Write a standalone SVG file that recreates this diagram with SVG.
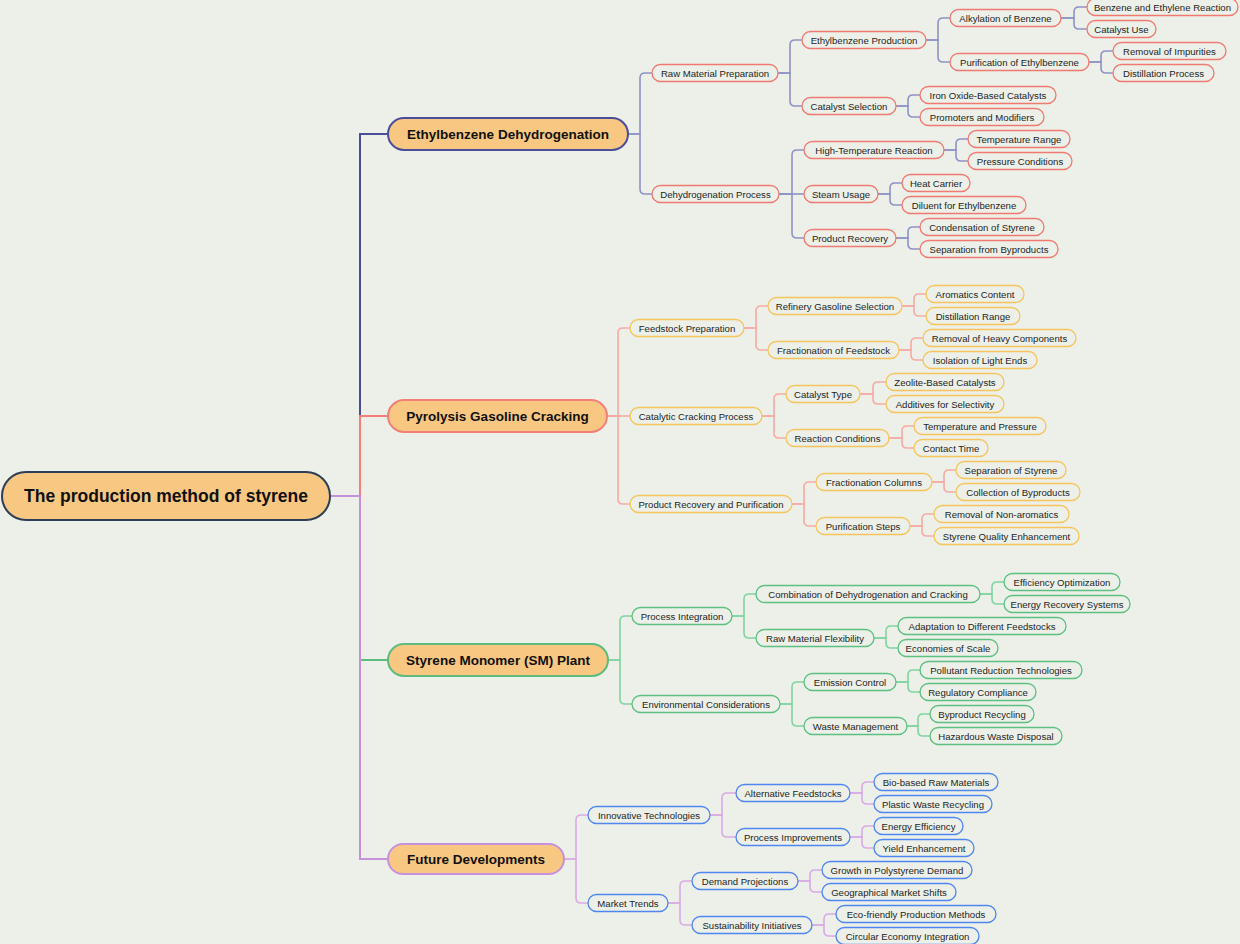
<svg xmlns="http://www.w3.org/2000/svg" width="1240" height="944" viewBox="0 0 1240 944">
<style>
.bg{fill:#ECF0E8}
.n rect{fill:#ECF0E8;stroke-width:1.3}
.n text{font-family:"Liberation Sans",Arial,sans-serif;font-size:9.6px;fill:#1E1E1E;text-anchor:middle}
.b1 rect{stroke:#F07A72}
.b2 rect{stroke:#F6C45C}
.b3 rect{stroke:#5CC080}
.b4 rect{stroke:#4F86F2}
.l1 rect{fill:#F8C882;stroke-width:2}
.l1 text{font-family:"Liberation Sans",Arial,sans-serif;font-size:13.5px;font-weight:bold;fill:#111;text-anchor:middle}
.root rect{fill:#F8C882;stroke:#2C3E55;stroke-width:2}
.root text{font-family:"Liberation Sans",Arial,sans-serif;font-size:17.5px;font-weight:bold;fill:#111;text-anchor:middle}
.c path{fill:none;stroke-width:1.6}
.c1 path{stroke:#8E92C6}
.c2 path{stroke:#F5AAA4}
.c3 path{stroke:#80D4A0}
.c4 path{stroke:#D8AAE6}
.r path{fill:none;stroke-width:2}
</style>
<rect class="bg" x="0" y="0" width="1240" height="944"/>
<g id="connectors">
<g class="r">
<path d="M330,496H360V134H388" stroke="#4A4E9A"/>
<path d="M330,496H360V416H388" stroke="#F47F7A"/>
<path d="M330,496H360V660H388" stroke="#5DBB7E"/>
<path d="M330,496H360V859H388" stroke="#C690DD"/>
</g>
<g class="c c1">
<path d="M628,134H640V78Q640,73 645,73H652"/>
<path d="M628,134H640V189Q640,194 645,194H652"/>
<path d="M778,73H790V45Q790,40 795,40H802"/>
<path d="M778,73H790V101Q790,106 795,106H802"/>
<path d="M926,40H938V23Q938,18 943,18H950"/>
<path d="M926,40H938V57Q938,62 943,62H950"/>
<path d="M1061,18H1074V12Q1074,7 1079,7H1087"/>
<path d="M1061,18H1074V24Q1074,29 1079,29H1087"/>
<path d="M1089,62H1101V56Q1101,51 1106,51H1113"/>
<path d="M1089,62H1101V68Q1101,73 1106,73H1113"/>
<path d="M896,106H908V100Q908,95 913,95H920"/>
<path d="M896,106H908V112Q908,117 913,117H920"/>
<path d="M779,194H792V155Q792,150 797,150H804"/>
<path d="M779,194H804"/>
<path d="M779,194H792V233Q792,238 797,238H804"/>
<path d="M944,150H956V144Q956,139 961,139H968"/>
<path d="M944,150H956V156Q956,161 961,161H968"/>
<path d="M878,194H890V188Q890,183 895,183H902"/>
<path d="M878,194H890V200Q890,205 895,205H902"/>
<path d="M896,238H908V232Q908,227 913,227H920"/>
<path d="M896,238H908V244Q908,249 913,249H920"/>
</g>
<g class="c c2">
<path d="M607,416H618V333Q618,328 623,328H630"/>
<path d="M607,416H630"/>
<path d="M607,416H618V499Q618,504 623,504H630"/>
<path d="M744,328H756V311Q756,306 761,306H768"/>
<path d="M744,328H756V345Q756,350 761,350H768"/>
<path d="M902,306H914V299Q914,294 919,294H926"/>
<path d="M902,306H914V311Q914,316 919,316H926"/>
<path d="M899,350H911V343Q911,338 916,338H923"/>
<path d="M899,350H911V355Q911,360 916,360H923"/>
<path d="M762,416H774V399Q774,394 779,394H786"/>
<path d="M762,416H774V433Q774,438 779,438H786"/>
<path d="M860,394H873V387Q873,382 878,382H886"/>
<path d="M860,394H873V399Q873,404 878,404H886"/>
<path d="M889,438H902V431Q902,426 907,426H914"/>
<path d="M889,438H902V443Q902,448 907,448H914"/>
<path d="M792,504H804V487Q804,482 809,482H816"/>
<path d="M792,504H804V521Q804,526 809,526H816"/>
<path d="M932,482H944V475Q944,470 949,470H956"/>
<path d="M932,482H944V487Q944,492 949,492H956"/>
<path d="M910,526H922V519Q922,514 927,514H934"/>
<path d="M910,526H922V531Q922,536 927,536H934"/>
</g>
<g class="c c3">
<path d="M608,660H620V621Q620,616 625,616H632"/>
<path d="M608,660H620V699Q620,704 625,704H632"/>
<path d="M732,616H744V599Q744,594 749,594H756"/>
<path d="M732,616H744V633Q744,638 749,638H756"/>
<path d="M980,594H992V587Q992,582 997,582H1004"/>
<path d="M980,594H992V599Q992,604 997,604H1004"/>
<path d="M874,638H886V631Q886,626 891,626H898"/>
<path d="M874,638H886V643Q886,648 891,648H898"/>
<path d="M780,704H792V687Q792,682 797,682H804"/>
<path d="M780,704H792V721Q792,726 797,726H804"/>
<path d="M896,682H908V675Q908,670 913,670H920"/>
<path d="M896,682H908V687Q908,692 913,692H920"/>
<path d="M907,726H918V719Q918,714 923,714H930"/>
<path d="M907,726H918V731Q918,736 923,736H930"/>
</g>
<g class="c c4">
<path d="M564,859H576V820Q576,815 581,815H588"/>
<path d="M564,859H576V898Q576,903 581,903H588"/>
<path d="M710,815H722V798Q722,793 727,793H736"/>
<path d="M710,815H722V832Q722,837 727,837H736"/>
<path d="M850,793H862V787Q862,782 867,782H874"/>
<path d="M850,793H862V799Q862,804 867,804H874"/>
<path d="M850,837H862V831Q862,826 867,826H874"/>
<path d="M850,837H862V843Q862,848 867,848H874"/>
<path d="M668,903H680V886Q680,881 685,881H692"/>
<path d="M668,903H680V920Q680,925 685,925H692"/>
<path d="M798,881H810V875Q810,870 815,870H822"/>
<path d="M798,881H810V887Q810,892 815,892H822"/>
<path d="M812,925H824V919Q824,914 829,914H836"/>
<path d="M812,925H824V931Q824,936 829,936H836"/>
</g>
</g>

<g id="root" class="root"><rect x="2" y="472" width="328" height="48" rx="24"/><text x="166" y="502">The production method of styrene</text></g>

<g id="ethylbenzene-dehydrogenation" class="l1"><rect x="388" y="118" width="240" height="32" rx="16" stroke="#4A4E9A"/><text x="508" y="139">Ethylbenzene Dehydrogenation</text></g>
<g id="pyrolysis-gasoline-cracking" class="l1"><rect x="388" y="400" width="219" height="32" rx="16" stroke="#F47F7A"/><text x="497.5" y="421">Pyrolysis Gasoline Cracking</text></g>
<g id="styrene-monomer-plant" class="l1"><rect x="388" y="644" width="220" height="32" rx="16" stroke="#5DBB7E"/><text x="498" y="665">Styrene Monomer (SM) Plant</text></g>
<g id="future-developments" class="l1"><rect x="388" y="844" width="176" height="30" rx="15" stroke="#C690DD"/><text x="476" y="864">Future Developments</text></g>

<g class="n b1">
<g id="raw-material-preparation"><rect x="652" y="64.5" width="126" height="17" rx="8.5"/><text x="715" y="76.5">Raw Material Preparation</text></g>
<g id="dehydrogenation-process"><rect x="652" y="185.5" width="127" height="17" rx="8.5"/><text x="715.5" y="197.5">Dehydrogenation Process</text></g>
<g id="ethylbenzene-production"><rect x="802" y="31.5" width="124" height="17" rx="8.5"/><text x="864" y="43.5">Ethylbenzene Production</text></g>
<g id="catalyst-selection"><rect x="802" y="97.5" width="94" height="17" rx="8.5"/><text x="849" y="109.5">Catalyst Selection</text></g>
<g id="alkylation-of-benzene"><rect x="950" y="9.5" width="111" height="17" rx="8.5"/><text x="1005.5" y="21.5">Alkylation of Benzene</text></g>
<g id="purification-of-ethylbenzene"><rect x="950" y="53.5" width="139" height="17" rx="8.5"/><text x="1019.5" y="65.5">Purification of Ethylbenzene</text></g>
<g id="benzene-and-ethylene-reaction"><rect x="1087" y="-1.5" width="151" height="17" rx="8.5"/><text x="1162.5" y="10.5">Benzene and Ethylene Reaction</text></g>
<g id="catalyst-use"><rect x="1087" y="20.5" width="69" height="17" rx="8.5"/><text x="1121.5" y="32.5">Catalyst Use</text></g>
<g id="removal-of-impurities"><rect x="1113" y="42.5" width="113" height="17" rx="8.5"/><text x="1169.5" y="54.5">Removal of Impurities</text></g>
<g id="distillation-process"><rect x="1113" y="64.5" width="101" height="17" rx="8.5"/><text x="1163.5" y="76.5">Distillation Process</text></g>
<g id="iron-oxide-based-catalysts"><rect x="920" y="86.5" width="136" height="17" rx="8.5"/><text x="988" y="98.5">Iron Oxide-Based Catalysts</text></g>
<g id="promoters-and-modifiers"><rect x="920" y="108.5" width="124" height="17" rx="8.5"/><text x="982" y="120.5">Promoters and Modifiers</text></g>
<g id="high-temperature-reaction"><rect x="804" y="141.5" width="140" height="17" rx="8.5"/><text x="874" y="153.5">High-Temperature Reaction</text></g>
<g id="steam-usage"><rect x="804" y="185.5" width="74" height="17" rx="8.5"/><text x="841" y="197.5">Steam Usage</text></g>
<g id="product-recovery"><rect x="804" y="229.5" width="92" height="17" rx="8.5"/><text x="850" y="241.5">Product Recovery</text></g>
<g id="temperature-range"><rect x="968" y="130.5" width="102" height="17" rx="8.5"/><text x="1019" y="142.5">Temperature Range</text></g>
<g id="pressure-conditions"><rect x="968" y="152.5" width="104" height="17" rx="8.5"/><text x="1020" y="164.5">Pressure Conditions</text></g>
<g id="heat-carrier"><rect x="902" y="174.5" width="68" height="17" rx="8.5"/><text x="936" y="186.5">Heat Carrier</text></g>
<g id="diluent-for-ethylbenzene"><rect x="902" y="196.5" width="124" height="17" rx="8.5"/><text x="964" y="208.5">Diluent for Ethylbenzene</text></g>
<g id="condensation-of-styrene"><rect x="920" y="218.5" width="124" height="17" rx="8.5"/><text x="982" y="230.5">Condensation of Styrene</text></g>
<g id="separation-from-byproducts"><rect x="920" y="240.5" width="138" height="17" rx="8.5"/><text x="989" y="252.5">Separation from Byproducts</text></g>
</g>

<g class="n b2">
<g id="feedstock-preparation"><rect x="630" y="319.5" width="114" height="17" rx="8.5"/><text x="687" y="331.5">Feedstock Preparation</text></g>
<g id="catalytic-cracking-process"><rect x="630" y="407.5" width="132" height="17" rx="8.5"/><text x="696" y="419.5">Catalytic Cracking Process</text></g>
<g id="product-recovery-and-purification"><rect x="630" y="495.5" width="162" height="17" rx="8.5"/><text x="711" y="507.5">Product Recovery and Purification</text></g>
<g id="refinery-gasoline-selection"><rect x="768" y="297.5" width="134" height="17" rx="8.5"/><text x="835" y="309.5">Refinery Gasoline Selection</text></g>
<g id="fractionation-of-feedstock"><rect x="768" y="341.5" width="131" height="17" rx="8.5"/><text x="833.5" y="353.5">Fractionation of Feedstock</text></g>
<g id="aromatics-content"><rect x="926" y="285.5" width="98" height="17" rx="8.5"/><text x="975" y="297.5">Aromatics Content</text></g>
<g id="distillation-range"><rect x="926" y="307.5" width="94" height="17" rx="8.5"/><text x="973" y="319.5">Distillation Range</text></g>
<g id="removal-of-heavy-components"><rect x="923" y="329.5" width="153" height="17" rx="8.5"/><text x="999.5" y="341.5">Removal of Heavy Components</text></g>
<g id="isolation-of-light-ends"><rect x="923" y="351.5" width="114" height="17" rx="8.5"/><text x="980" y="363.5">Isolation of Light Ends</text></g>
<g id="catalyst-type"><rect x="786" y="385.5" width="74" height="17" rx="8.5"/><text x="823" y="397.5">Catalyst Type</text></g>
<g id="reaction-conditions"><rect x="786" y="429.5" width="103" height="17" rx="8.5"/><text x="837.5" y="441.5">Reaction Conditions</text></g>
<g id="zeolite-based-catalysts"><rect x="886" y="373.5" width="118" height="17" rx="8.5"/><text x="945" y="385.5">Zeolite-Based Catalysts</text></g>
<g id="additives-for-selectivity"><rect x="886" y="395.5" width="118" height="17" rx="8.5"/><text x="945" y="407.5">Additives for Selectivity</text></g>
<g id="temperature-and-pressure"><rect x="914" y="417.5" width="132" height="17" rx="8.5"/><text x="980" y="429.5">Temperature and Pressure</text></g>
<g id="contact-time"><rect x="914" y="439.5" width="74" height="17" rx="8.5"/><text x="951" y="451.5">Contact Time</text></g>
<g id="fractionation-columns"><rect x="816" y="473.5" width="116" height="17" rx="8.5"/><text x="874" y="485.5">Fractionation Columns</text></g>
<g id="purification-steps"><rect x="816" y="517.5" width="94" height="17" rx="8.5"/><text x="863" y="529.5">Purification Steps</text></g>
<g id="separation-of-styrene"><rect x="956" y="461.5" width="110" height="17" rx="8.5"/><text x="1011" y="473.5">Separation of Styrene</text></g>
<g id="collection-of-byproducts"><rect x="956" y="483.5" width="124" height="17" rx="8.5"/><text x="1018" y="495.5">Collection of Byproducts</text></g>
<g id="removal-of-non-aromatics"><rect x="934" y="505.5" width="135" height="17" rx="8.5"/><text x="1001.5" y="517.5">Removal of Non-aromatics</text></g>
<g id="styrene-quality-enhancement"><rect x="934" y="527.5" width="145" height="17" rx="8.5"/><text x="1006.5" y="539.5">Styrene Quality Enhancement</text></g>
</g>

<g class="n b3">
<g id="process-integration"><rect x="632" y="607.5" width="100" height="17" rx="8.5"/><text x="682" y="619.5">Process Integration</text></g>
<g id="environmental-considerations"><rect x="632" y="695.5" width="148" height="17" rx="8.5"/><text x="706" y="707.5">Environmental Considerations</text></g>
<g id="combination-of-dehydrogenation-and-cracking"><rect x="756" y="585.5" width="224" height="17" rx="8.5"/><text x="868" y="597.5">Combination of Dehydrogenation and Cracking</text></g>
<g id="raw-material-flexibility"><rect x="756" y="629.5" width="118" height="17" rx="8.5"/><text x="815" y="641.5">Raw Material Flexibility</text></g>
<g id="efficiency-optimization"><rect x="1004" y="573.5" width="116" height="17" rx="8.5"/><text x="1062" y="585.5">Efficiency Optimization</text></g>
<g id="energy-recovery-systems"><rect x="1004" y="595.5" width="126" height="17" rx="8.5"/><text x="1067" y="607.5">Energy Recovery Systems</text></g>
<g id="adaptation-to-different-feedstocks"><rect x="898" y="617.5" width="168" height="17" rx="8.5"/><text x="982" y="629.5">Adaptation to Different Feedstocks</text></g>
<g id="economies-of-scale"><rect x="898" y="639.5" width="100" height="17" rx="8.5"/><text x="948" y="651.5">Economies of Scale</text></g>
<g id="emission-control"><rect x="804" y="673.5" width="92" height="17" rx="8.5"/><text x="850" y="685.5">Emission Control</text></g>
<g id="waste-management"><rect x="804" y="717.5" width="103" height="17" rx="8.5"/><text x="855.5" y="729.5">Waste Management</text></g>
<g id="pollutant-reduction-technologies"><rect x="920" y="661.5" width="162" height="17" rx="8.5"/><text x="1001" y="673.5">Pollutant Reduction Technologies</text></g>
<g id="regulatory-compliance"><rect x="920" y="683.5" width="116" height="17" rx="8.5"/><text x="978" y="695.5">Regulatory Compliance</text></g>
<g id="byproduct-recycling"><rect x="930" y="705.5" width="104" height="17" rx="8.5"/><text x="982" y="717.5">Byproduct Recycling</text></g>
<g id="hazardous-waste-disposal"><rect x="930" y="727.5" width="132" height="17" rx="8.5"/><text x="996" y="739.5">Hazardous Waste Disposal</text></g>
</g>

<g class="n b4">
<g id="innovative-technologies"><rect x="588" y="806.5" width="122" height="17" rx="8.5"/><text x="649" y="818.5">Innovative Technologies</text></g>
<g id="market-trends"><rect x="588" y="894.5" width="80" height="17" rx="8.5"/><text x="628" y="906.5">Market Trends</text></g>
<g id="alternative-feedstocks"><rect x="736" y="784.5" width="114" height="17" rx="8.5"/><text x="793" y="796.5">Alternative Feedstocks</text></g>
<g id="process-improvements"><rect x="736" y="828.5" width="114" height="17" rx="8.5"/><text x="793" y="840.5">Process Improvements</text></g>
<g id="bio-based-raw-materials"><rect x="874" y="773.5" width="124" height="17" rx="8.5"/><text x="936" y="785.5">Bio-based Raw Materials</text></g>
<g id="plastic-waste-recycling"><rect x="874" y="795.5" width="118" height="17" rx="8.5"/><text x="933" y="807.5">Plastic Waste Recycling</text></g>
<g id="energy-efficiency"><rect x="874" y="817.5" width="89" height="17" rx="8.5"/><text x="918.5" y="829.5">Energy Efficiency</text></g>
<g id="yield-enhancement"><rect x="874" y="839.5" width="100" height="17" rx="8.5"/><text x="924" y="851.5">Yield Enhancement</text></g>
<g id="demand-projections"><rect x="692" y="872.5" width="106" height="17" rx="8.5"/><text x="745" y="884.5">Demand Projections</text></g>
<g id="sustainability-initiatives"><rect x="692" y="916.5" width="120" height="17" rx="8.5"/><text x="752" y="928.5">Sustainability Initiatives</text></g>
<g id="growth-in-polystyrene-demand"><rect x="822" y="861.5" width="150" height="17" rx="8.5"/><text x="897" y="873.5">Growth in Polystyrene Demand</text></g>
<g id="geographical-market-shifts"><rect x="822" y="883.5" width="134" height="17" rx="8.5"/><text x="889" y="895.5">Geographical Market Shifts</text></g>
<g id="eco-friendly-production-methods"><rect x="836" y="905.5" width="160" height="17" rx="8.5"/><text x="916" y="917.5">Eco-friendly Production Methods</text></g>
<g id="circular-economy-integration"><rect x="836" y="927.5" width="143" height="17" rx="8.5"/><text x="907.5" y="939.5">Circular Economy Integration</text></g>
</g>
</svg>
